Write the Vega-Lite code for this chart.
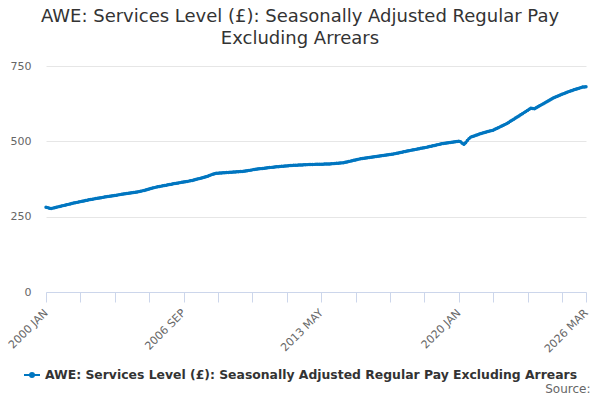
{
  "$schema": "https://vega.github.io/schema/vega-lite/v6.json",
  "width": 540,
  "height": 226,
  "autosize": "none",
  "padding": {"left": 46, "top": 66, "right": 14, "bottom": 108},
  "title": {
    "text": ["AWE: Services Level (£): Seasonally Adjusted Regular Pay", "Excluding Arrears"],
    "anchor": "middle",
    "frame": "group",
    "dx": -16,
    "offset": 12,
    "fontSize": 18,
    "fontWeight": "normal",
    "color": "#333333",
    "lineHeight": 22
  },
  "data": {
    "values": [
      {"d": "2000 JAN", "v": 281}, {"d": "2000 FEB", "v": 280}, {"d": "2000 MAR", "v": 278}, {"d": "2000 APR", "v": 277},
      {"d": "2000 MAY", "v": 278.4}, {"d": "2000 JUN", "v": 279.8}, {"d": "2000 JUL", "v": 281.2}, {"d": "2000 AUG", "v": 282.5},
      {"d": "2000 SEP", "v": 283.9}, {"d": "2000 OCT", "v": 285.3}, {"d": "2000 NOV", "v": 286.7}, {"d": "2000 DEC", "v": 288.1},
      {"d": "2001 JAN", "v": 289.5}, {"d": "2001 FEB", "v": 290.8}, {"d": "2001 MAR", "v": 292.2}, {"d": "2001 APR", "v": 293.6},
      {"d": "2001 MAY", "v": 295}, {"d": "2001 JUN", "v": 296.2}, {"d": "2001 JUL", "v": 297.4}, {"d": "2001 AUG", "v": 298.7},
      {"d": "2001 SEP", "v": 299.9}, {"d": "2001 OCT", "v": 301.1}, {"d": "2001 NOV", "v": 302.3}, {"d": "2001 DEC", "v": 303.6},
      {"d": "2002 JAN", "v": 304.8}, {"d": "2002 FEB", "v": 306}, {"d": "2002 MAR", "v": 307}, {"d": "2002 APR", "v": 308},
      {"d": "2002 MAY", "v": 309}, {"d": "2002 JUN", "v": 310}, {"d": "2002 JUL", "v": 311}, {"d": "2002 AUG", "v": 312},
      {"d": "2002 SEP", "v": 313}, {"d": "2002 OCT", "v": 314}, {"d": "2002 NOV", "v": 315}, {"d": "2002 DEC", "v": 316},
      {"d": "2003 JAN", "v": 316.9}, {"d": "2003 FEB", "v": 317.8}, {"d": "2003 MAR", "v": 318.7}, {"d": "2003 APR", "v": 319.6},
      {"d": "2003 MAY", "v": 320.5}, {"d": "2003 JUN", "v": 321.4}, {"d": "2003 JUL", "v": 322.3}, {"d": "2003 AUG", "v": 323.2},
      {"d": "2003 SEP", "v": 324.1}, {"d": "2003 OCT", "v": 325}, {"d": "2003 NOV", "v": 325.9}, {"d": "2003 DEC", "v": 326.8},
      {"d": "2004 JAN", "v": 327.7}, {"d": "2004 FEB", "v": 328.6}, {"d": "2004 MAR", "v": 329.5}, {"d": "2004 APR", "v": 330.4},
      {"d": "2004 MAY", "v": 331.3}, {"d": "2004 JUN", "v": 332.2}, {"d": "2004 JUL", "v": 333.1}, {"d": "2004 AUG", "v": 334},
      {"d": "2004 SEP", "v": 335.6}, {"d": "2004 OCT", "v": 337.1}, {"d": "2004 NOV", "v": 338.7}, {"d": "2004 DEC", "v": 340.2},
      {"d": "2005 JAN", "v": 341.8}, {"d": "2005 FEB", "v": 343.3}, {"d": "2005 MAR", "v": 344.9}, {"d": "2005 APR", "v": 346.4},
      {"d": "2005 MAY", "v": 348}, {"d": "2005 JUN", "v": 349.1}, {"d": "2005 JUL", "v": 350.2}, {"d": "2005 AUG", "v": 351.3},
      {"d": "2005 SEP", "v": 352.4}, {"d": "2005 OCT", "v": 353.5}, {"d": "2005 NOV", "v": 354.6}, {"d": "2005 DEC", "v": 355.7},
      {"d": "2006 JAN", "v": 356.8}, {"d": "2006 FEB", "v": 357.9}, {"d": "2006 MAR", "v": 359}, {"d": "2006 APR", "v": 360},
      {"d": "2006 MAY", "v": 361}, {"d": "2006 JUN", "v": 362}, {"d": "2006 JUL", "v": 363}, {"d": "2006 AUG", "v": 364},
      {"d": "2006 SEP", "v": 365}, {"d": "2006 OCT", "v": 366}, {"d": "2006 NOV", "v": 367}, {"d": "2006 DEC", "v": 368},
      {"d": "2007 JAN", "v": 369}, {"d": "2007 FEB", "v": 370}, {"d": "2007 MAR", "v": 371.6}, {"d": "2007 APR", "v": 373.1},
      {"d": "2007 MAY", "v": 374.7}, {"d": "2007 JUN", "v": 376.2}, {"d": "2007 JUL", "v": 377.8}, {"d": "2007 AUG", "v": 379.3},
      {"d": "2007 SEP", "v": 380.9}, {"d": "2007 OCT", "v": 382.4}, {"d": "2007 NOV", "v": 384}, {"d": "2007 DEC", "v": 386.3},
      {"d": "2008 JAN", "v": 388.7}, {"d": "2008 FEB", "v": 391}, {"d": "2008 MAR", "v": 392.5}, {"d": "2008 APR", "v": 394},
      {"d": "2008 MAY", "v": 394.4}, {"d": "2008 JUN", "v": 394.8}, {"d": "2008 JUL", "v": 395.2}, {"d": "2008 AUG", "v": 395.6},
      {"d": "2008 SEP", "v": 396}, {"d": "2008 OCT", "v": 396.4}, {"d": "2008 NOV", "v": 396.8}, {"d": "2008 DEC", "v": 397.2},
      {"d": "2009 JAN", "v": 397.6}, {"d": "2009 FEB", "v": 398}, {"d": "2009 MAR", "v": 398.4}, {"d": "2009 APR", "v": 398.8},
      {"d": "2009 MAY", "v": 399.2}, {"d": "2009 JUN", "v": 399.6}, {"d": "2009 JUL", "v": 400}, {"d": "2009 AUG", "v": 400.9},
      {"d": "2009 SEP", "v": 401.8}, {"d": "2009 OCT", "v": 402.7}, {"d": "2009 NOV", "v": 403.6}, {"d": "2009 DEC", "v": 404.4},
      {"d": "2010 JAN", "v": 405.3}, {"d": "2010 FEB", "v": 406.2}, {"d": "2010 MAR", "v": 407.1}, {"d": "2010 APR", "v": 408},
      {"d": "2010 MAY", "v": 408.7}, {"d": "2010 JUN", "v": 409.4}, {"d": "2010 JUL", "v": 410.1}, {"d": "2010 AUG", "v": 410.8},
      {"d": "2010 SEP", "v": 411.5}, {"d": "2010 OCT", "v": 412.2}, {"d": "2010 NOV", "v": 412.9}, {"d": "2010 DEC", "v": 413.6},
      {"d": "2011 JAN", "v": 414.3}, {"d": "2011 FEB", "v": 415}, {"d": "2011 MAR", "v": 415.5}, {"d": "2011 APR", "v": 416},
      {"d": "2011 MAY", "v": 416.5}, {"d": "2011 JUN", "v": 417}, {"d": "2011 JUL", "v": 417.5}, {"d": "2011 AUG", "v": 418},
      {"d": "2011 SEP", "v": 418.5}, {"d": "2011 OCT", "v": 419}, {"d": "2011 NOV", "v": 419.5}, {"d": "2011 DEC", "v": 420},
      {"d": "2012 JAN", "v": 420.3}, {"d": "2012 FEB", "v": 420.6}, {"d": "2012 MAR", "v": 420.9}, {"d": "2012 APR", "v": 421.2},
      {"d": "2012 MAY", "v": 421.5}, {"d": "2012 JUN", "v": 421.8}, {"d": "2012 JUL", "v": 422.1}, {"d": "2012 AUG", "v": 422.4},
      {"d": "2012 SEP", "v": 422.7}, {"d": "2012 OCT", "v": 423}, {"d": "2012 NOV", "v": 423.2}, {"d": "2012 DEC", "v": 423.3},
      {"d": "2013 JAN", "v": 423.5}, {"d": "2013 FEB", "v": 423.7}, {"d": "2013 MAR", "v": 423.8}, {"d": "2013 APR", "v": 424},
      {"d": "2013 MAY", "v": 424.2}, {"d": "2013 JUN", "v": 424.3}, {"d": "2013 JUL", "v": 424.5}, {"d": "2013 AUG", "v": 424.7},
      {"d": "2013 SEP", "v": 424.8}, {"d": "2013 OCT", "v": 425}, {"d": "2013 NOV", "v": 425.5}, {"d": "2013 DEC", "v": 426},
      {"d": "2014 JAN", "v": 426.5}, {"d": "2014 FEB", "v": 427}, {"d": "2014 MAR", "v": 427.5}, {"d": "2014 APR", "v": 428},
      {"d": "2014 MAY", "v": 428.5}, {"d": "2014 JUN", "v": 429}, {"d": "2014 JUL", "v": 430.3}, {"d": "2014 AUG", "v": 431.7},
      {"d": "2014 SEP", "v": 433}, {"d": "2014 OCT", "v": 434.3}, {"d": "2014 NOV", "v": 435.7}, {"d": "2014 DEC", "v": 437},
      {"d": "2015 JAN", "v": 438.3}, {"d": "2015 FEB", "v": 439.7}, {"d": "2015 MAR", "v": 441}, {"d": "2015 APR", "v": 441.9},
      {"d": "2015 MAY", "v": 442.8}, {"d": "2015 JUN", "v": 443.7}, {"d": "2015 JUL", "v": 444.6}, {"d": "2015 AUG", "v": 445.5},
      {"d": "2015 SEP", "v": 446.4}, {"d": "2015 OCT", "v": 447.3}, {"d": "2015 NOV", "v": 448.2}, {"d": "2015 DEC", "v": 449.1},
      {"d": "2016 JAN", "v": 450}, {"d": "2016 FEB", "v": 450.8}, {"d": "2016 MAR", "v": 451.6}, {"d": "2016 APR", "v": 452.4},
      {"d": "2016 MAY", "v": 453.2}, {"d": "2016 JUN", "v": 454}, {"d": "2016 JUL", "v": 454.8}, {"d": "2016 AUG", "v": 455.6},
      {"d": "2016 SEP", "v": 456.4}, {"d": "2016 OCT", "v": 457.2}, {"d": "2016 NOV", "v": 458}, {"d": "2016 DEC", "v": 459.2},
      {"d": "2017 JAN", "v": 460.4}, {"d": "2017 FEB", "v": 461.6}, {"d": "2017 MAR", "v": 462.8}, {"d": "2017 APR", "v": 464},
      {"d": "2017 MAY", "v": 465.2}, {"d": "2017 JUN", "v": 466.4}, {"d": "2017 JUL", "v": 467.6}, {"d": "2017 AUG", "v": 468.8},
      {"d": "2017 SEP", "v": 470}, {"d": "2017 OCT", "v": 471.1}, {"d": "2017 NOV", "v": 472.2}, {"d": "2017 DEC", "v": 473.3},
      {"d": "2018 JAN", "v": 474.4}, {"d": "2018 FEB", "v": 475.6}, {"d": "2018 MAR", "v": 476.7}, {"d": "2018 APR", "v": 477.8},
      {"d": "2018 MAY", "v": 478.9}, {"d": "2018 JUN", "v": 480}, {"d": "2018 JUL", "v": 481.3}, {"d": "2018 AUG", "v": 482.6},
      {"d": "2018 SEP", "v": 483.9}, {"d": "2018 OCT", "v": 485.2}, {"d": "2018 NOV", "v": 486.5}, {"d": "2018 DEC", "v": 487.8},
      {"d": "2019 JAN", "v": 489.1}, {"d": "2019 FEB", "v": 490.4}, {"d": "2019 MAR", "v": 491.7}, {"d": "2019 APR", "v": 493},
      {"d": "2019 MAY", "v": 493.8}, {"d": "2019 JUN", "v": 494.6}, {"d": "2019 JUL", "v": 495.4}, {"d": "2019 AUG", "v": 496.2},
      {"d": "2019 SEP", "v": 497}, {"d": "2019 OCT", "v": 497.8}, {"d": "2019 NOV", "v": 498.5}, {"d": "2019 DEC", "v": 499.2},
      {"d": "2020 JAN", "v": 500}, {"d": "2020 FEB", "v": 499}, {"d": "2020 MAR", "v": 494}, {"d": "2020 APR", "v": 490},
      {"d": "2020 MAY", "v": 495}, {"d": "2020 JUN", "v": 503}, {"d": "2020 JUL", "v": 509}, {"d": "2020 AUG", "v": 514},
      {"d": "2020 SEP", "v": 516}, {"d": "2020 OCT", "v": 518}, {"d": "2020 NOV", "v": 520}, {"d": "2020 DEC", "v": 522},
      {"d": "2021 JAN", "v": 524}, {"d": "2021 FEB", "v": 526}, {"d": "2021 MAR", "v": 528}, {"d": "2021 APR", "v": 529.5},
      {"d": "2021 MAY", "v": 531}, {"d": "2021 JUN", "v": 532.5}, {"d": "2021 JUL", "v": 534}, {"d": "2021 AUG", "v": 535.5},
      {"d": "2021 SEP", "v": 537}, {"d": "2021 OCT", "v": 539.8}, {"d": "2021 NOV", "v": 542.5}, {"d": "2021 DEC", "v": 545.3},
      {"d": "2022 JAN", "v": 548}, {"d": "2022 FEB", "v": 550.8}, {"d": "2022 MAR", "v": 553.5}, {"d": "2022 APR", "v": 556.3},
      {"d": "2022 MAY", "v": 559}, {"d": "2022 JUN", "v": 562.6}, {"d": "2022 JUL", "v": 566.3}, {"d": "2022 AUG", "v": 569.9},
      {"d": "2022 SEP", "v": 573.5}, {"d": "2022 OCT", "v": 577.1}, {"d": "2022 NOV", "v": 580.8}, {"d": "2022 DEC", "v": 584.4},
      {"d": "2023 JAN", "v": 588}, {"d": "2023 FEB", "v": 591.7}, {"d": "2023 MAR", "v": 595.3}, {"d": "2023 APR", "v": 599},
      {"d": "2023 MAY", "v": 602.7}, {"d": "2023 JUN", "v": 606.3}, {"d": "2023 JUL", "v": 610}, {"d": "2023 AUG", "v": 609},
      {"d": "2023 SEP", "v": 608}, {"d": "2023 OCT", "v": 611.3}, {"d": "2023 NOV", "v": 614.5}, {"d": "2023 DEC", "v": 617.8},
      {"d": "2024 JAN", "v": 621}, {"d": "2024 FEB", "v": 624.3}, {"d": "2024 MAR", "v": 627.6}, {"d": "2024 APR", "v": 630.9},
      {"d": "2024 MAY", "v": 634.1}, {"d": "2024 JUN", "v": 637.4}, {"d": "2024 JUL", "v": 640.7}, {"d": "2024 AUG", "v": 644},
      {"d": "2024 SEP", "v": 646.4}, {"d": "2024 OCT", "v": 648.8}, {"d": "2024 NOV", "v": 651.1}, {"d": "2024 DEC", "v": 653.5},
      {"d": "2025 JAN", "v": 655.9}, {"d": "2025 FEB", "v": 658.3}, {"d": "2025 MAR", "v": 660.6}, {"d": "2025 APR", "v": 663},
      {"d": "2025 MAY", "v": 665}, {"d": "2025 JUN", "v": 667}, {"d": "2025 JUL", "v": 669}, {"d": "2025 AUG", "v": 671},
      {"d": "2025 SEP", "v": 672.8}, {"d": "2025 OCT", "v": 674.6}, {"d": "2025 NOV", "v": 676.4}, {"d": "2025 DEC", "v": 678.2},
      {"d": "2026 JAN", "v": 680}, {"d": "2026 FEB", "v": 680.5}, {"d": "2026 MAR", "v": 681}
    ]
  },
  "mark": {
    "type": "line",
    "strokeWidth": 2.5,
    "point": {"filled": true, "size": 12}
  },
  "encoding": {
    "x": {
      "field": "d",
      "type": "ordinal",
      "sort": null,
      "scale": {"type": "point", "padding": 0},
      "axis": {
        "title": "Source:",
        "titleAnchor": "end",
        "titleAlign": "right",
        "titleBaseline": "bottom",
        "titleX": 544,
        "titleY": 103,
        "titleFontSize": 12,
        "titleFontWeight": "normal",
        "titleColor": "#666666",
        "values": ["2000 JAN", "2001 SEP", "2003 MAY", "2005 JAN", "2006 SEP", "2008 MAY", "2010 JAN", "2011 SEP", "2013 MAY", "2015 JAN", "2016 SEP", "2018 MAY", "2020 JAN", "2021 SEP", "2023 MAY", "2025 JAN", "2026 MAR"],
        "labelExpr": "indexof(['2000 JAN', '2006 SEP', '2013 MAY', '2020 JAN', '2026 MAR'], datum.value) >= 0 ? datum.value : ''",
        "labelAngle": -45,
        "labelAlign": "right",
        "labelBaseline": "middle",
        "labelFontSize": 11,
        "labelColor": "#666666",
        "labelPadding": 9,
        "labelOverlap": false,
        "labelBound": false,
        "labelFlush": false,
        "domainColor": "#ccd6eb",
        "tickColor": "#ccd6eb",
        "tickSize": 10,
        "grid": false
      }
    },
    "y": {
      "field": "v",
      "type": "quantitative",
      "scale": {"domain": [0, 750]},
      "axis": {
        "title": null,
        "values": [0, 250, 500, 750],
        "domain": false,
        "ticks": false,
        "labelFontSize": 11,
        "labelColor": "#666666",
        "labelPadding": 15,
        "gridColor": "#e6e6e6"
      }
    },
    "color": {
      "datum": "AWE: Services Level (£): Seasonally Adjusted Regular Pay Excluding Arrears",
      "type": "nominal",
      "scale": {"range": ["#0076c0"]},
      "legend": {
        "title": null,
        "orient": "none",
        "legendX": -23,
        "legendY": 300,
        "symbolType": "M-1,0L1,0M0.25,0A0.25,0.25,0,1,1,-0.25,0A0.25,0.25,0,1,1,0.25,0",
        "symbolSize": 256,
        "symbolStrokeWidth": 2,
        "symbolFillColor": "#0076c0",
        "labelFontSize": 12.4,
        "labelFontWeight": "bold",
        "labelColor": "#333333",
        "labelLimit": 700
      }
    }
  },
  "config": {
    "font": "DejaVu Sans",
    "view": {"stroke": null}
  }
}
